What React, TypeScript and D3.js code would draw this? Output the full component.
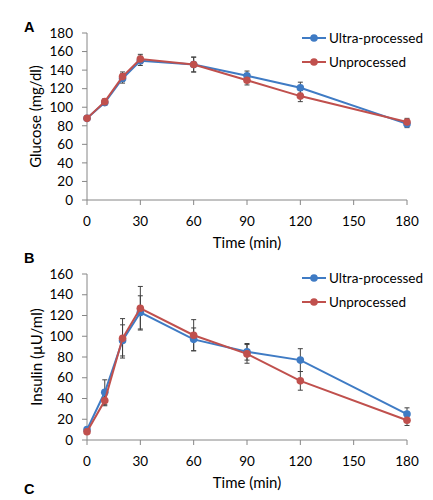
import React from "react";
import * as d3 from "d3";

const times = [0, 10, 20, 30, 60, 90, 120, 180];
const xTicks = [0, 30, 60, 90, 120, 150, 180];

const glucoseUltra = [88, 105, 131, 150, 146, 134, 121, 82];
const glucoseUltraErr = [2, 3, 5, 5, 8, 5, 6, 4];
const glucoseUnproc = [88, 106, 133, 152, 146, 129, 112, 84];
const glucoseUnprocErr = [2, 3, 5, 5, 8, 5, 6, 4];
const glucoseTicks = [0, 20, 40, 60, 80, 100, 120, 140, 160, 180];

const insulinUltra = [10, 46, 96, 123, 97, 85, 77, 25];
const insulinUltraErr = [2, 12, 15, 16, 11, 8, 11, 6];
const insulinUnproc = [8, 38, 98, 127, 101, 83, 57, 19];
const insulinUnprocErr = [2, 5, 19, 21, 15, 9, 9, 5];
const insulinTicks = [0, 20, 40, 60, 80, 100, 120, 140, 160];

const seriesNames = ["Ultra-processed", "Unprocessed"];
const colors = ["#3f7bc4", "#c0504d"];

const FONT = "Lato, 'Open Sans', sans-serif";
const AXIS = "#868686";
const ERR = "#404040";

type PanelProps = {
  top: number;
  bottom: number;
  yMax: number;
  yTicks: number[];
  yLabel: string;
  letter: string;
  letterY: number;
  data: number[][];
  errs: number[][];
  legendY: number;
  xLabelY: number;
  yLabelX: number;
};

function Panel(p: PanelProps) {
  const x = d3.scaleLinear().domain([0, 180]).range([87, 407]);
  const y = d3.scaleLinear().domain([0, p.yMax]).range([p.bottom, p.top]);
  const line = d3
    .line<number>()
    .x((_, i) => x(times[i]))
    .y((d) => y(d));
  return (
    <g fontFamily={FONT} fill="#000">
      <text x={24} y={p.letterY} fontSize={14.5} fontWeight="bold" fontFamily="'Liberation Sans', Arial, sans-serif">
        {p.letter}
      </text>
      {/* y axis */}
      <line x1={x(0)} x2={x(0)} y1={y(p.yMax)} y2={y(0)} stroke={AXIS} />
      {p.yTicks.map((t) => (
        <g key={t}>
          <line x1={x(0) - 5} x2={x(0)} y1={y(t)} y2={y(t)} stroke={AXIS} />
          <text x={x(0) - 14} y={y(t)} dy="0.35em" textAnchor="end" fontSize={13.5}>
            {t}
          </text>
        </g>
      ))}
      {/* x axis */}
      <line x1={x(0)} x2={x(180)} y1={y(0)} y2={y(0)} stroke={AXIS} />
      {xTicks.map((t) => (
        <g key={t}>
          <line x1={x(t)} x2={x(t)} y1={y(0)} y2={y(0) + 5} stroke={AXIS} />
          <text x={x(t)} y={y(0) + 21} dy="0.35em" textAnchor="middle" fontSize={13.5}>
            {t}
          </text>
        </g>
      ))}
      <text x={x(90)} y={p.xLabelY} dy="0.35em" textAnchor="middle" fontSize={15}>
        Time (min)
      </text>
      <text
        transform={`translate(${p.yLabelX},${(y(0) + y(p.yMax)) / 2}) rotate(-90)`}
        dy="0.35em"
        textAnchor="middle"
        fontSize={15}
      >
        {p.yLabel}
      </text>
      {/* error bars */}
      {p.data.map((s, si) =>
        s.map((v, i) => {
          const e = p.errs[si][i];
          const cx = x(times[i]);
          return (
            <g key={`e${si}-${i}`} stroke={ERR} strokeWidth={1}>
              <line x1={cx} x2={cx} y1={y(v - e)} y2={y(v + e)} />
              <line x1={cx - 2.5} x2={cx + 2.5} y1={y(v - e)} y2={y(v - e)} />
              <line x1={cx - 2.5} x2={cx + 2.5} y1={y(v + e)} y2={y(v + e)} />
            </g>
          );
        })
      )}
      {/* series */}
      {p.data.map((s, si) => (
        <g key={`s${si}`}>
          <path d={line(s) || ""} fill="none" stroke={colors[si]} strokeWidth={2} />
          {s.map((v, i) => (
            <circle key={i} cx={x(times[i])} cy={y(v)} r={3.8} fill={colors[si]} />
          ))}
        </g>
      ))}
      {/* legend */}
      {seriesNames.map((n, si) => {
        const ly = p.legendY + si * 24;
        return (
          <g key={n}>
            <line x1={302} x2={326} y1={ly} y2={ly} stroke={colors[si]} strokeWidth={2} />
            <circle cx={314} cy={ly} r={3.8} fill={colors[si]} />
            <text x={329} y={ly} dy="0.35em" fontSize={13.5}>
              {n}
            </text>
          </g>
        );
      })}
    </g>
  );
}

export default function App() {
  return (
    <svg
      width={433}
      height={500}
      style={{ position: "absolute", left: 0, top: 0, background: "#fff" }}
    >
      <rect width={433} height={500} fill="#fff" />
      <Panel
        top={33}
        bottom={200}
        yMax={180}
        yTicks={glucoseTicks}
        yLabel="Glucose (mg/dl)"
        letter="A"
        letterY={32}
        data={[glucoseUltra, glucoseUnproc]}
        errs={[glucoseUltraErr, glucoseUnprocErr]}
        legendY={38}
        xLabelY={243}
        yLabelX={36}
      />
      <Panel
        top={274}
        bottom={440}
        yMax={160}
        yTicks={insulinTicks}
        yLabel="Insulin (µU/ml)"
        letter="B"
        letterY={263}
        data={[insulinUltra, insulinUnproc]}
        errs={[insulinUltraErr, insulinUnprocErr]}
        legendY={278}
        xLabelY={483}
        yLabelX={37}
      />
      <text x={24} y={494} fontSize={14.5} fontWeight="bold" fontFamily="'Liberation Sans', Arial, sans-serif">
        C
      </text>
    </svg>
  );
}
